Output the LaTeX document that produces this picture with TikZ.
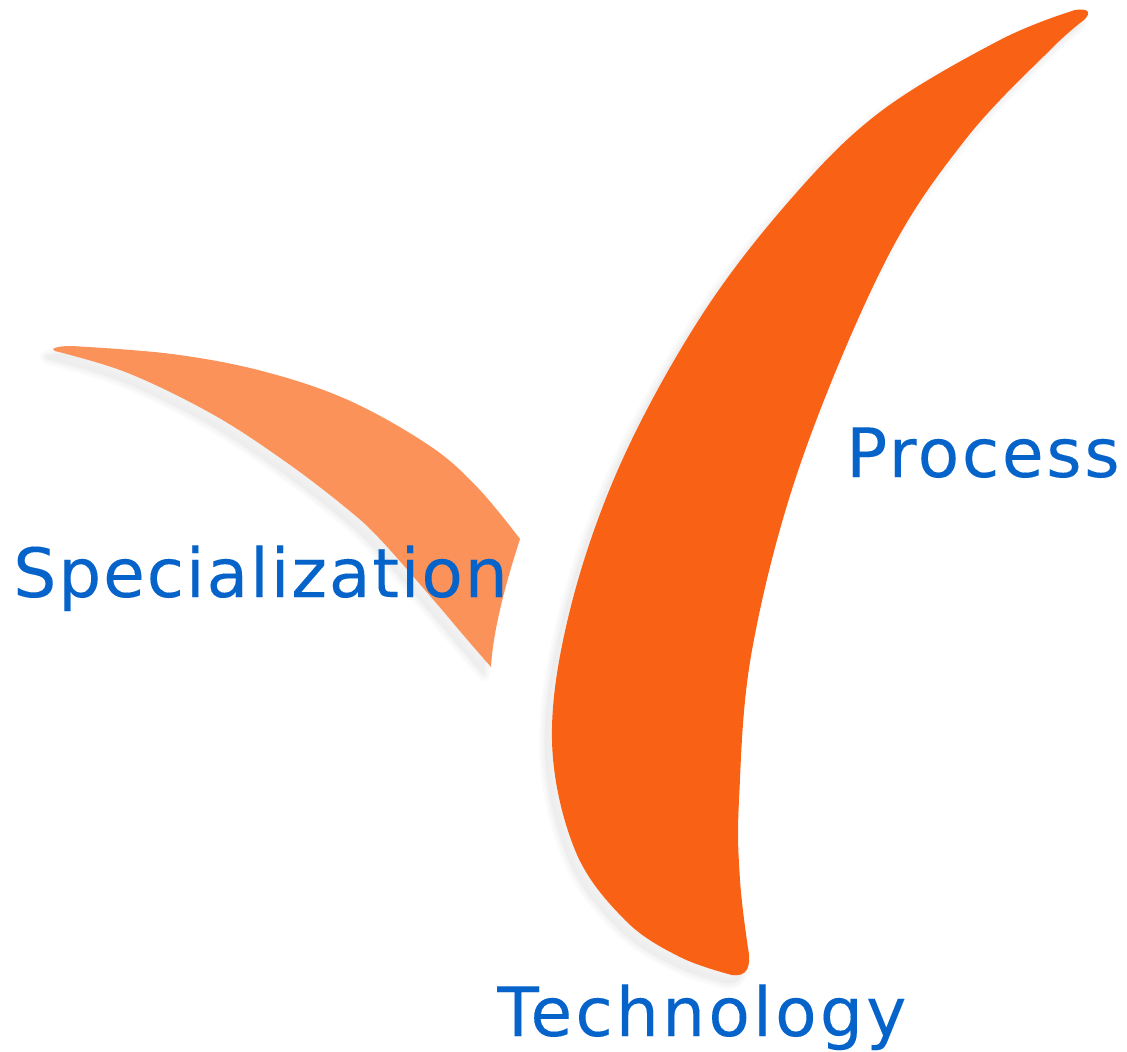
\documentclass[tikz,border=0pt]{standalone}
\usepackage{fontspec}
\setmainfont{DejaVu Sans}
\newfontfamily\lblP[LetterSpace=3.8,FakeBold=0.12]{DejaVu Sans}
\newfontfamily\lblS[LetterSpace=2.6,FakeBold=0.12]{DejaVu Sans}
\newfontfamily\lblT[LetterSpace=4.6,FakeBold=0.12]{DejaVu Sans}
\definecolor{bigleaf}{HTML}{F96114}
\definecolor{smallleaf}{HTML}{FB9259}
\definecolor{labelblue}{HTML}{0563C9}
\definecolor{softgrey}{HTML}{EBEBEB}
\tikzset{
  px/.style={x=0.75pt,y=-0.75pt},
  lbl/.style={text=labelblue,inner sep=0pt,anchor=base west},
  softshadow/.style={fill=softgrey,draw=softgrey,opacity=.22,line join=round,shift={(-7,8)}},
  edge/.style={smooth,tension=.6},
}
\def\bigpath{(1075,10) -- plot[edge] coordinates {(1075,10) (1000,40) (880,112) (790,200) (700,318) (620,465) (570,610) (552,740) (575,850) (625,920) (680,957) (732,975)}
  .. controls (746,977) and (752,968) .. (748,948)
  -- plot[edge] coordinates {(748,948) (740,880) (739,800) (752,650) (800,465) (885,262) (965,140) (1050,50) (1084,20)}
  .. controls (1092,12) and (1088,8) .. (1075,10) -- cycle}
\def\smallpath{(53,349) .. controls (55,347) and (62,346) .. (72,346)
  -- plot[edge] coordinates {(72,346) (172,354) (262,371) (348,400) (430,446) (478,488) (520,539)}
  .. controls (506,582) and (493,630) .. (491,667)
  -- plot[edge] coordinates {(491,667) (465,637) (431,597) (379,538) (345,507) (286,462) (214,415) (128,373) (55,351)}
  -- cycle}
\begin{document}
\begin{tikzpicture}[px]
\useasboundingbox (0,0) rectangle (1127,1051);
\foreach \w in {9pt,6pt,3.5pt,1.5pt,0.2pt}{
  \path[softshadow,line width=\w] \bigpath;
  \path[softshadow,line width=\w] \smallpath;
}
\fill[bigleaf] \bigpath;
\fill[smallleaf] \smallpath;
\node[lbl,font={\fontsize{51pt}{51pt}\lblP}] (process) at (846,477) {Process};
\node[lbl,font={\fontsize{51pt}{51pt}\lblS}] (special) at (13,597) {Specialization};
\node[lbl,font={\fontsize{51pt}{51pt}\lblT}] (tech) at (497,1036) {Technology};
\end{tikzpicture}
\end{document}
